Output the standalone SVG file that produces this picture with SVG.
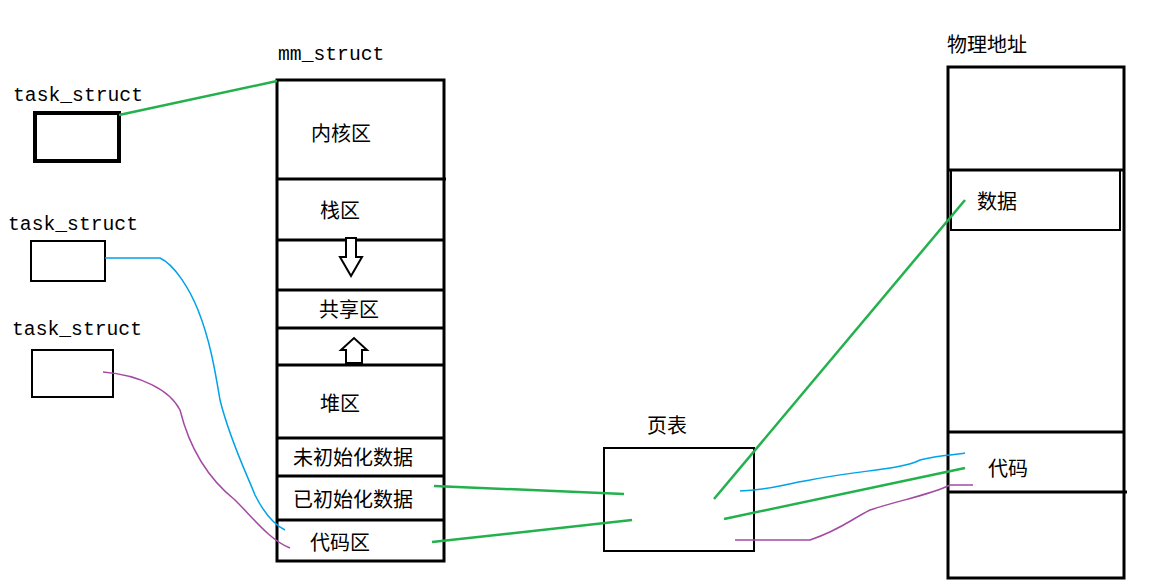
<svg xmlns="http://www.w3.org/2000/svg" width="1171" height="586" viewBox="0 0 1171 586">
<style>
.t{font-family:"Noto Sans CJK SC","Noto Sans",sans-serif;font-size:20px;fill:#000}
.m{font-family:"Liberation Mono",monospace;font-size:19.7px;fill:#000}
.b{fill:none;stroke:#000;stroke-width:3}
.g{fill:none;stroke:#22b14c;stroke-width:2.5}
.bl{fill:none;stroke:#00a2e8;stroke-width:1.5}
.p{fill:none;stroke:#a349a4;stroke-width:1.5}
</style>
<rect width="1171" height="586" fill="#fff"/>
<g id="mm_struct">
<text class="m" x="278" y="60">mm_struct</text>
<rect class="b" x="277" y="80" width="167" height="481"/>
<path class="b" d="M277 179H446M277 240H444M277 290H444M277 328H444M277 365H444M277 438H444M277 476H444M277 520H444"/>
<text class="t" x="311" y="141">内核区</text>
<text class="t" x="320" y="218">栈区</text>
<text class="t" x="319" y="317">共享区</text>
<text class="t" x="320" y="411">堆区</text>
<text class="t" x="293" y="465">未初始化数据</text>
<text class="t" x="293" y="507">已初始化数据</text>
<text class="t" x="310" y="550">代码区</text>
<path d="M346 238H356V257H362L351 276L340 257H346Z" fill="#fff" stroke="#000" stroke-width="2"/>
<path d="M346 363V350H341L354 338L367 350H362V363Z" fill="#fff" stroke="#000" stroke-width="2"/>
</g>
<g id="task1"><text class="m" x="13" y="101">task_struct</text><rect x="35" y="113" width="84" height="48" fill="none" stroke="#000" stroke-width="4"/></g>
<g id="task2"><text class="m" x="8" y="230">task_struct</text><rect x="31" y="241" width="74" height="40" fill="none" stroke="#000" stroke-width="2"/></g>
<g id="task3"><text class="m" x="12" y="335">task_struct</text><rect x="32" y="350" width="81" height="47" fill="none" stroke="#000" stroke-width="2"/></g>
<g id="pagetable"><text class="t" x="647" y="433">页表</text><rect x="604" y="448" width="150" height="103" fill="none" stroke="#000" stroke-width="2"/></g>
<g id="physical">
<text class="t" x="947" y="52">物理地址</text>
<rect class="b" x="948" y="67" width="176" height="511"/>
<path class="b" d="M948 170H1124M948 432H1124M948 492H1127"/>
<rect x="951" y="170" width="169" height="60" fill="none" stroke="#000" stroke-width="2"/>
<text class="t" x="977" y="209">数据</text>
<text class="t" x="988" y="476">代码</text>
</g>
<g id="connectors">
<path class="g" d="M119 115L277 81"/>
<path class="g" d="M434 486L624 494"/>
<path class="g" d="M432 542L632 520"/>
<path class="g" d="M714 499L965 200"/>
<path class="g" d="M724 519L965 468"/>
<path class="bl" d="M105 258H160C175 265 190 290 198 310C210 340 215 370 220 400C230 440 245 470 255 495C265 515 275 525 285 530"/>
<path class="p" d="M103 372C140 375 170 390 180 410C190 450 210 480 235 500C255 520 270 540 290 548"/>
<path class="bl" d="M740 491C770 490 780 485 810 480C860 470 900 470 920 460C940 455 955 455 965 453"/>
<path class="p" d="M735 540H810C840 530 850 520 870 510C900 500 930 495 950 485H973"/>
</g>
</svg>
